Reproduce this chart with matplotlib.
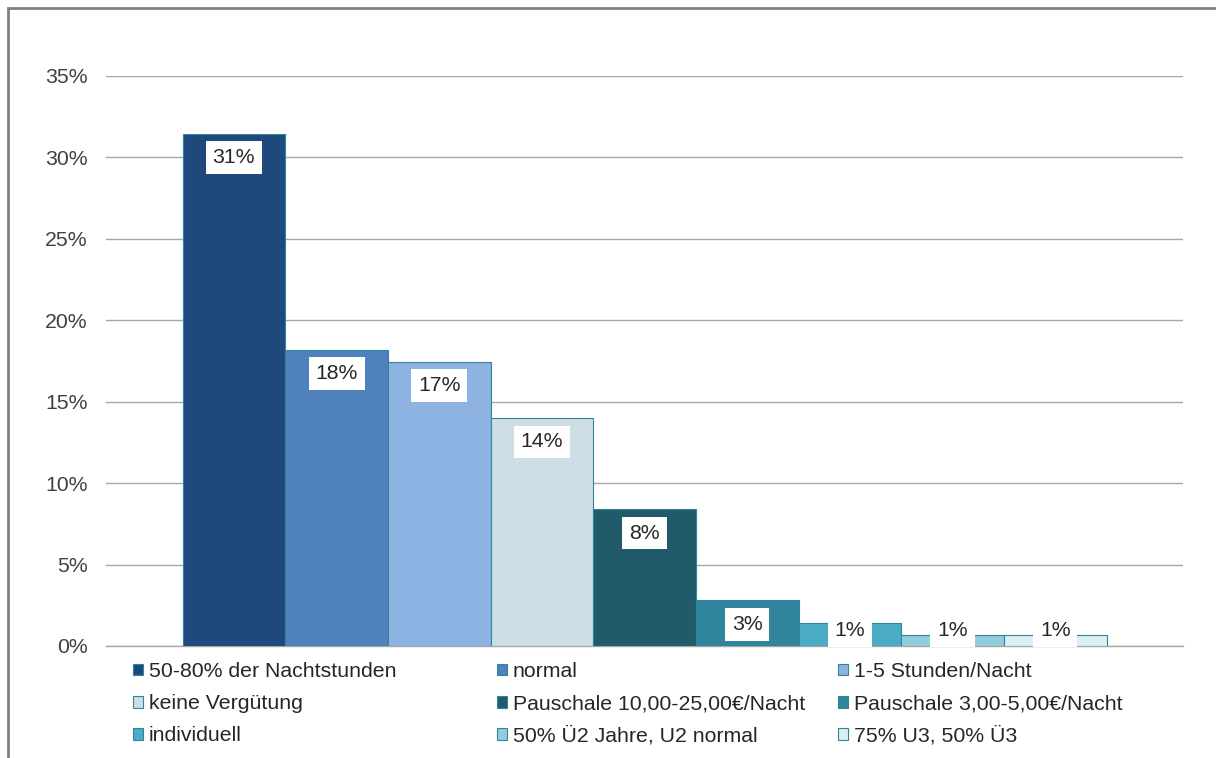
import matplotlib
matplotlib.use("Agg")
import matplotlib.pyplot as plt
from matplotlib.patches import Rectangle
from matplotlib.ticker import FuncFormatter
import numpy as np

plt.rcParams['font.family'] = ['Liberation Sans', 'DejaVu Sans']

# Data (percent of answers)
categories = [
    "50-80% der Nachtstunden", "normal", "1-5 Stunden/Nacht",
    "keine Vergütung", "Pauschale 10,00-25,00€/Nacht", "Pauschale 3,00-5,00€/Nacht",
    "individuell", "50% Ü2 Jahre, U2 normal", "75% U3, 50% Ü3",
]
values = [31.45, 18.2, 17.45, 14.0, 8.4, 2.8, 1.4, 0.7, 0.7]
colors = ["#1f497d", "#4f81bd", "#8db3e2", "#cddee6", "#215a69",
          "#31859c", "#4bacc6", "#92cddc", "#daeef3"]
y_ticks = [0, 5, 10, 15, 20, 25, 30, 35]

FS = 15.3
TEXT = "#404040"

fig = plt.figure(figsize=(12.16, 7.58), dpi=100)
ax = fig.add_axes([0.0872, 0.1478, 0.8857, 0.7520])

# one category, bars side by side
n = len(values)
x = np.arange(n) - (n - 1) / 2
bars = ax.bar(x, values, width=1.0, color=colors, edgecolor="#31849b",
              linewidth=0.8, zorder=3)

ax.set_xlim(-n / 2 - 0.745, n / 2 + 0.745)
ax.set_ylim(0, 35)
ax.set_yticks(y_ticks)
ax.yaxis.set_major_formatter(FuncFormatter(lambda v, p: f"{v:.0f}%"))
ax.set_xticks([])
ax.grid(axis="y", color="#a6a6a6", linewidth=1.0, zorder=0)
for s in ["top", "right", "left"]:
    ax.spines[s].set_visible(False)
ax.spines["bottom"].set_color("#a6a6a6")
ax.spines["bottom"].set_linewidth(1.0)
ax.tick_params(axis="y", length=0, pad=13, labelsize=FS, labelcolor=TEXT)

# data labels in white boxes near the top of each bar
for xi, v in zip(x, values):
    ly = max(v - 1.47, 0.92)
    ax.text(xi, ly, f"{v:.0f}%", ha="center", va="center", fontsize=FS,
            color="#262626", zorder=5,
            bbox=dict(boxstyle="square,pad=0.32", fc="white", ec="none"))

# legend in three columns below the plot
col_x = [133, 497, 838]
for c in range(3):
    idx = [c, c + 3, c + 6]
    fig.legend([bars[i] for i in idx], [categories[i] for i in idx],
               loc="upper left", bbox_to_anchor=(col_x[c] / 1216, 1 - 662 / 758),
               frameon=False, fontsize=FS, borderpad=0, borderaxespad=0,
               handlelength=0.48, handleheight=0.48, handletextpad=0.25,
               labelspacing=0.62, labelcolor="#262626")

# outer chart frame (only left and top edges visible)
fig.patches.append(Rectangle((8 / 1216, -0.1), 1.2, 1 - 8 / 758 + 0.1,
                             transform=fig.transFigure, fill=False,
                             edgecolor="#808080", linewidth=2.0))

fig.savefig("out.png", dpi=100)
